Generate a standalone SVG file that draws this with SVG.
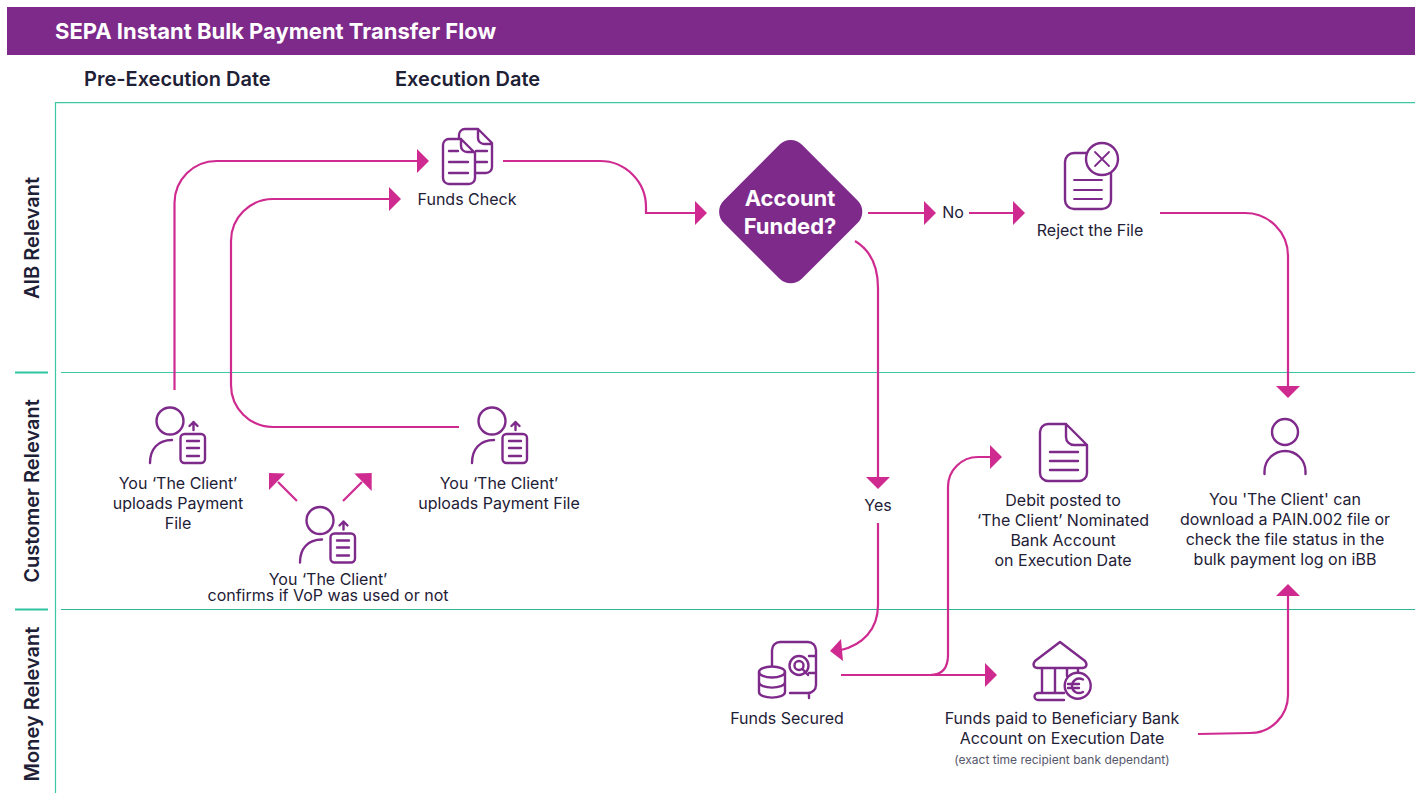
<svg xmlns="http://www.w3.org/2000/svg" width="1418" height="793" viewBox="0 0 1418 793">
<style>
text{font-family:"Inter","Liberation Sans",sans-serif;fill:#1e2036;font-size:16px;text-anchor:middle}
.h{font-size:20px;font-weight:600;text-anchor:start}
.v{font-size:20px;font-weight:600}
.ic{fill:none;stroke:#7e2a8b;stroke-width:2.4;stroke-linecap:round;stroke-linejoin:round}
.c{fill:none;stroke:#cf2a90;stroke-width:2.2}
.t{stroke:#3cc8a5;stroke-width:1.2;fill:none}
.t2{stroke:#2fb597;stroke-width:1.2;fill:none}
.tk{stroke:#2fc4a0;stroke-width:2.2;fill:none}
</style>
<defs>
<marker id="a" markerUnits="userSpaceOnUse" markerWidth="14" markerHeight="26" refX="0" refY="12" orient="auto"><path d="M0 0L12 12L0 24Z" fill="#cf2a90"/></marker>
<g id="pu" class="ic">
<circle cx="0" cy="0" r="13.5"/>
<path d="M-20 42C-20 28-12 19 2 19"/>
<rect x="10.500" y="13" width="24.500" height="29" rx="4"/>
<path d="M17 20H29M17 27H29M17 35H29M23.500 9V1M19.500 5L23.500 1L27.500 5"/>
</g>
</defs>
<rect x="7" y="7" width="1408" height="48" fill="#7e2a8b"/>
<text x="55" y="39" style="font-size:22px;font-weight:700;fill:#fff;text-anchor:start">SEPA Instant Bulk Payment Transfer Flow</text>
<text class="h" x="84" y="86">Pre-Execution Date</text>
<text class="h" x="395" y="86">Execution Date</text>
<path class="t" d="M1415 102.700H55.500V793"/>
<path class="t" d="M61 372.500H1415"/>
<path class="t2" d="M61 609.500H1415"/>
<path class="tk" d="M15 372.500H48M15 609.500H48"/>
<text class="v" transform="translate(39 238) rotate(-90)">AIB Relevant</text>
<text class="v" transform="translate(39 491) rotate(-90)">Customer Relevant</text>
<text class="v" transform="translate(39 704) rotate(-90)">Money Relevant</text>
<g id="connectors">
<path class="c" marker-end="url(#a)" d="M174.500 390V203A42 42 0 0 1 216.500 161H417"/>
<path class="c" marker-end="url(#a)" d="M459 427H273A42 42 0 0 1 231 385V241A42 42 0 0 1 273 199H389"/>
<path class="c" marker-end="url(#a)" d="M503 161H600A46 46 0 0 1 646 207V213H695"/>
<path class="c" marker-end="url(#a)" d="M868 213H924"/>
<path class="c" marker-end="url(#a)" d="M969 213H1013"/>
<path class="c" marker-end="url(#a)" d="M855 241C870 250 878 266 878 288V477"/>
<path class="c" d="M878 523V605C878 630 862 645 841 650"/>
<path d="M830 651L841 639L843 661Z" fill="#cf2a90"/>
<path class="c" marker-end="url(#a)" d="M841 675H985"/>
<path class="c" marker-end="url(#a)" d="M930 675C942 675 948 669 948 655V487A30 30 0 0 1 978 457H990"/>
<path class="c" marker-end="url(#a)" d="M1160 213H1245A43 43 0 0 1 1288 256V386"/>
<path class="c" marker-end="url(#a)" d="M1198 734L1250 733A38 38 0 0 0 1288 695V596"/>
<path class="c" d="M297 501L278 482M343 501L362 482"/>
<path d="M269 473L285 473.500L269 490Z" fill="#cf2a90"/>
<path d="M371.700 473L354.300 473.500L371.700 491Z" fill="#cf2a90"/>
</g>
<g id="funds-check">
<path class="ic" d="M459 138V135A6 6 0 0 1 465 129H478L492 143V167A6 6 0 0 1 486 173H476M478 129V138A6 6 0 0 0 484 144H492M476 151H487M476 162H487"/>
<path class="ic" d="M461 139H449A6 6 0 0 0 443 145V178A6 6 0 0 0 449 184H469A6 6 0 0 0 475 178V153L461 139V146A6 6 0 0 0 467 152H475M449 151H458M449 162H468M449 173H468"/>
<text x="467" y="205">Funds Check</text>
</g>
<g id="account-funded">
<rect x="735.400" y="156.400" width="110.600" height="110.600" rx="16" fill="#7e2a8b" transform="rotate(45 790.700 211.700)"/>
<text x="790" y="206" style="font-size:22px;font-weight:700;fill:#fff">Account</text>
<text x="790" y="234" style="font-size:22px;font-weight:700;fill:#fff">Funded?</text>
</g>
<g id="no-label"><text x="953" y="218">No</text></g>
<g id="yes-label"><text x="878" y="511">Yes</text></g>
<g id="reject-file">
<rect class="ic" x="1065" y="153" width="46" height="56" rx="9"/>
<circle class="ic" cx="1102" cy="159" r="16" style="fill:#fff"/>
<path class="ic" style="stroke-width:1.800" d="M1095 152L1109 166M1109 152L1095 166M1074 180H1102M1074 190H1102M1074 199H1102"/>
<text x="1090" y="236">Reject the File</text>
</g>
<g id="client-upload-1">
<use href="#pu" x="170" y="421"/>
<text x="178" y="489">You ‘The Client’</text>
<text x="178" y="509">uploads Payment</text>
<text x="178" y="529">File</text>
</g>
<g id="client-upload-2">
<use href="#pu" x="492" y="421"/>
<text x="499" y="489">You ‘The Client’</text>
<text x="499" y="509">uploads Payment File</text>
</g>
<g id="client-vop">
<use href="#pu" x="320" y="520.500"/>
<text x="328" y="585">You ‘The Client’</text>
<text x="328" y="601">confirms if VoP was used or not</text>
</g>
<g id="debit-posted">
<path class="ic" d="M1066 424H1048A8 8 0 0 0 1040 432V473A8 8 0 0 0 1048 481H1079A8 8 0 0 0 1087 473V445L1066 424V437A8 8 0 0 0 1074 445H1087M1050 452H1078M1050 461H1078M1050 470H1078"/>
<text x="1063" y="506">Debit posted to</text>
<text x="1063" y="526">‘The Client’ Nominated</text>
<text x="1063" y="546">Bank Account</text>
<text x="1063" y="566">on Execution Date</text>
</g>
<g id="client-download">
<circle class="ic" cx="1285" cy="432" r="13"/>
<path class="ic" d="M1264.500 474V471.500A20.500 20.500 0 0 1 1305.500 471.500V474"/>
<text x="1285" y="505">You 'The Client' can</text>
<text x="1285" y="525">download a PAIN.002 file or</text>
<text x="1285" y="545">check the file status in the</text>
<text x="1285" y="565">bulk payment log on iBB</text>
</g>
<g id="funds-secured">
<path class="ic" d="M772 665V650A8 8 0 0 1 780 642H808A8 8 0 0 1 816 650V685A8 8 0 0 1 808 693H790M809 656H816M809 673H816M809 693V698"/>
<circle class="ic" cx="799" cy="665.500" r="9.500"/>
<circle class="ic" cx="799" cy="665.500" r="4.500"/>
<path class="ic" d="M802.500 669L808 675"/>
<ellipse class="ic" cx="772" cy="672" rx="13" ry="5.500"/>
<path class="ic" d="M759 672V692C759 699.500 785 699.500 785 692V672M759 682C759 689.500 785 689.500 785 682"/>
<text x="787" y="724">Funds Secured</text>
</g>
<g id="funds-paid">
<path class="ic" d="M1060 642L1035 661C1032 665 1034 668 1038 668H1082C1086 668 1088 665 1085 661ZM1042 668V693M1055 668V693M1067 668V676M1078 668V672M1064 693H1038A3.500 3.500 0 0 0 1038 700H1064"/>
<circle class="ic" cx="1077.700" cy="685.700" r="13"/>
<path class="ic" d="M1083 679.500C1077 676.500 1072 681 1072 686C1072 691 1077 695 1083 692M1068 684H1079M1068 688H1079"/>
<text x="1062" y="724">Funds paid to Beneficiary Bank</text>
<text x="1062" y="744">Account on Execution Date</text>
<text x="1062" y="764" style="font-size:12px;fill:#55566a">(exact time recipient bank dependant)</text>
</g>
</svg>
